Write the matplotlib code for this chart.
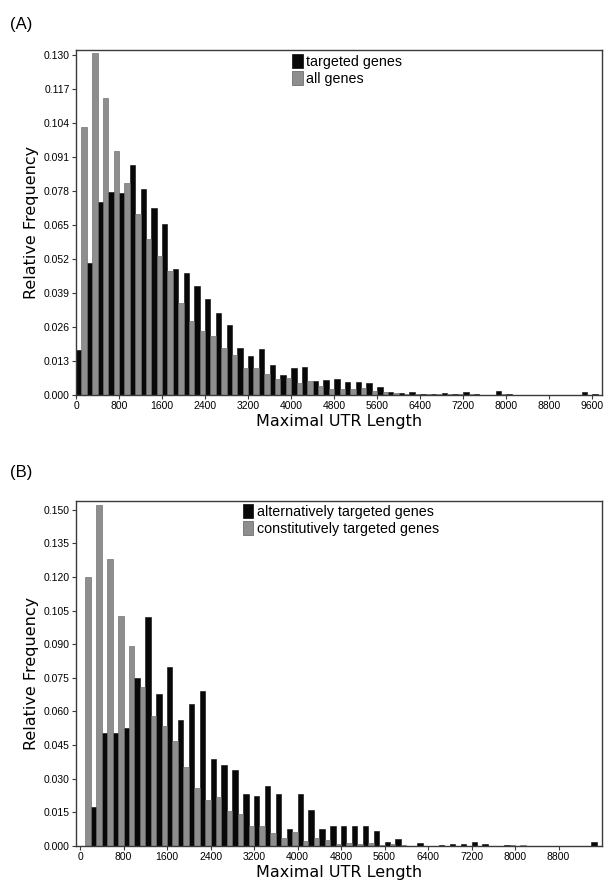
import matplotlib
matplotlib.use("Agg")
import matplotlib.pyplot as plt
from matplotlib.patches import Patch
import numpy as np

# ---------------- data ----------------
bin_width = 200

# Panel A
a_labels = ["targeted genes", "all genes"]
a_targeted = [0.0172, 0.0503, 0.0737, 0.0775, 0.0771, 0.0881, 0.0786, 0.0715, 0.0654, 0.0480,
              0.0465, 0.0418, 0.0367, 0.0314, 0.0266, 0.0181, 0.0148, 0.0176, 0.0115, 0.0076,
              0.0102, 0.0106, 0.0054, 0.0059, 0.0062, 0.0048, 0.0048, 0.0045, 0.0029, 0.0011,
              0.0006, 0.0011, 0.0002, 0.0004, 0.0009, 0.0004, 0.0010, 0.0002, 0.0000, 0.0017,
              0.0005, 0.0000, 0.0000, 0.0000, 0.0000, 0.0000, 0.0000, 0.0011, 0.0004]
a_all = [0.1023, 0.1306, 0.1137, 0.0933, 0.0809, 0.0691, 0.0595, 0.0531, 0.0474, 0.0353,
         0.0283, 0.0246, 0.0226, 0.0178, 0.0154, 0.0105, 0.0105, 0.0080, 0.0060, 0.0064,
         0.0045, 0.0055, 0.0034, 0.0022, 0.0022, 0.0022, 0.0025, 0.0015, 0.0013, 0.0006,
         0.0004, 0.0003, 0.0003, 0.0002, 0.0002, 0.0002, 0.0002, 0.0001, 0.0001, 0.0002,
         0.0001, 0.0001, 0.0001, 0.0000, 0.0000, 0.0000, 0.0001, 0.0001, 0.0001]
a_yticks = [0.000, 0.013, 0.026, 0.039, 0.052, 0.065, 0.078, 0.091, 0.104, 0.117, 0.130]
a_xticks = [0, 800, 1600, 2400, 3200, 4000, 4800, 5600, 6400, 7200, 8000, 8800, 9600]

# Panel B
b_labels = ["alternatively targeted genes", "constitutively targeted genes"]
b_alternative = [0.0000, 0.0173, 0.0503, 0.0503, 0.0527, 0.0750, 0.1021, 0.0679, 0.0798, 0.0563,
                 0.0634, 0.0692, 0.0387, 0.0362, 0.0339, 0.0232, 0.0223, 0.0268, 0.0232, 0.0077,
                 0.0231, 0.0159, 0.0077, 0.0089, 0.0089, 0.0089, 0.0089, 0.0067, 0.0019, 0.0030,
                 0.0000, 0.0015, 0.0000, 0.0006, 0.0007, 0.0007, 0.0019, 0.0007, 0.0000, 0.0006,
                 0.0000, 0.0000, 0.0000, 0.0000, 0.0000, 0.0000, 0.0000, 0.0019]
b_constitutive = [0.1202, 0.1520, 0.1281, 0.1025, 0.0891, 0.0708, 0.0582, 0.0536, 0.0470, 0.0354,
                  0.0257, 0.0207, 0.0220, 0.0158, 0.0143, 0.0091, 0.0091, 0.0060, 0.0037, 0.0062,
                  0.0022, 0.0034, 0.0027, 0.0010, 0.0015, 0.0010, 0.0015, 0.0003, 0.0007, 0.0003,
                  0.0002, 0.0002, 0.0002, 0.0001, 0.0001, 0.0001, 0.0001, 0.0001, 0.0001, 0.0003,
                  0.0003, 0.0001, 0.0000, 0.0000, 0.0000, 0.0000, 0.0002, 0.0002]
b_yticks = [0.000, 0.015, 0.030, 0.045, 0.060, 0.075, 0.090, 0.105, 0.120, 0.135, 0.150]
b_xticks = [0, 800, 1600, 2400, 3200, 4000, 4800, 5600, 6400, 7200, 8000, 8800]

# ---------------- style ----------------
plt.rcParams['font.family'] = ['Liberation Sans', 'DejaVu Sans']
BLACK = '#080808'
GRAY = '#8e8e8e'
GRAY_EDGE = '#5e5e5e'
SPINE = '#3a3a3a'

W, H = 608, 882
fig = plt.figure(figsize=(W / 100, H / 100), dpi=100)


def px_axes(left, top, right, bottom):
    return fig.add_axes([left / W, 1 - bottom / H, (right - left) / W, (bottom - top) / H])


def draw_panel(ax, black_vals, gray_vals, labels, yticks, xticks, xlim, ylim, fmt, leg_anchor):
    k = np.arange(len(black_vals))
    left_edges = k * bin_width
    ax.bar(left_edges, black_vals, width=bin_width / 2, align='edge',
           color=BLACK, edgecolor=BLACK, linewidth=0.4)
    ax.bar(left_edges + bin_width / 2, gray_vals, width=bin_width / 2, align='edge',
           color=GRAY, edgecolor=GRAY_EDGE, linewidth=0.4)
    ax.set_xlim(*xlim)
    ax.set_ylim(*ylim)
    ax.set_yticks(yticks)
    ax.set_yticklabels([fmt.format(v) for v in yticks])
    ax.set_xticks(xticks)
    ax.set_xticklabels([str(v) for v in xticks])
    ax.tick_params(axis='both', direction='out', length=3, width=0.8, color=SPINE,
                   labelsize=7.5, pad=1.5)
    for s in ax.spines.values():
        s.set_color(SPINE)
        s.set_linewidth(1.0)
    ax.set_xlabel("Maximal UTR Length", fontsize=11.5, family=['DejaVu Sans'], labelpad=2)
    ax.set_ylabel("Relative Frequency", fontsize=11.5, family=['DejaVu Sans'], labelpad=3)
    handles = [Patch(facecolor=BLACK, edgecolor=BLACK, linewidth=0.5),
               Patch(facecolor=GRAY, edgecolor=GRAY_EDGE, linewidth=0.5)]
    ax.legend(handles, labels, loc='upper left', bbox_to_anchor=leg_anchor, frameon=False,
              fontsize=10.3, handlelength=0.75, handleheight=1.1, handletextpad=0.25,
              labelspacing=0.15, borderpad=0, borderaxespad=0)


axA = px_axes(76, 50, 602, 395)
draw_panel(axA, a_targeted, a_all, a_labels, a_yticks, a_xticks,
           (0, 9780), (0, 0.1319), "{:.3f}", (0.411, 0.988))

axB = px_axes(76, 501, 602, 846)
draw_panel(axB, b_alternative, b_constitutive, b_labels, b_yticks, b_xticks,
           (-74, 9600), (0, 0.1539), "{:.3f}", (0.317, 0.991))

fig.text(10 / W, 1 - 25 / H, "(A)", fontsize=12, va='center', ha='left')
fig.text(10 / W, 1 - 472 / H, "(B)", fontsize=12, va='center', ha='left')

fig.savefig("out.png", dpi=100)
